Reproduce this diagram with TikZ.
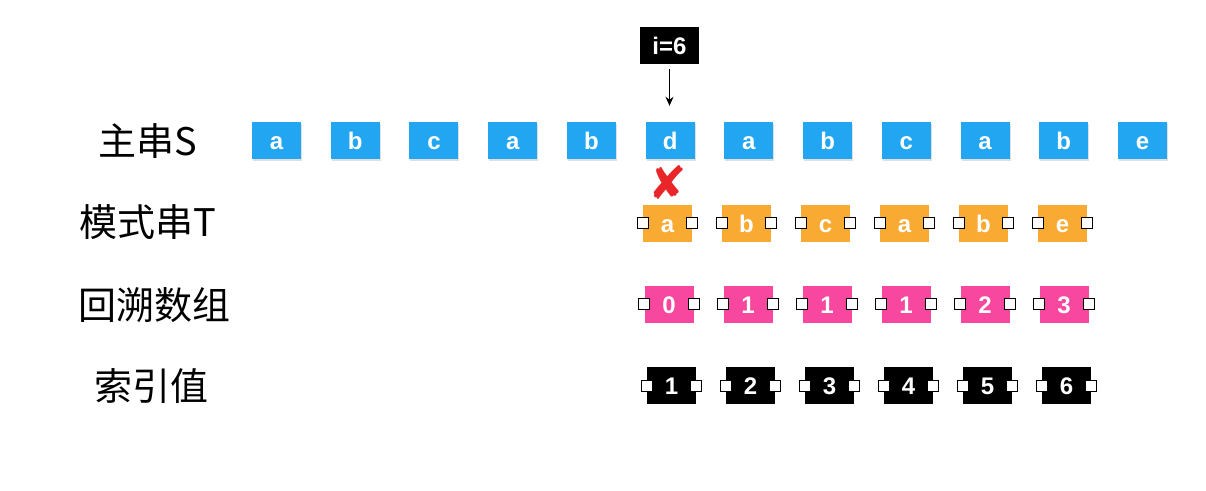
\documentclass[tikz,border=0pt]{standalone}
\usepackage{fontspec}
\setmainfont{Liberation Sans}
\newfontfamily\cjkfont{Noto Sans CJK SC}
\newfontfamily\symfont{DejaVu Sans}
\usetikzlibrary{shadows,arrows.meta}
\definecolor{sblue}{HTML}{22A6F2}
\definecolor{torange}{HTML}{F9AA33}
\definecolor{bpink}{HTML}{F7479E}
\definecolor{xred}{HTML}{E8262A}
\begin{document}
\begin{tikzpicture}[x=1pt,y=-1pt,
 cell/.style={minimum width=49pt,minimum height=37pt,inner sep=0pt,text=white,
   font=\fontsize{24}{24}\selectfont\bfseries,text height=18pt,text depth=0pt},
 sbox/.style={cell,fill=sblue,drop shadow={shadow xshift=1pt,shadow yshift=-1.5pt,opacity=0.25}},
 obox/.style={cell,fill=torange},
 pbox/.style={cell,fill=bpink},
 kbox/.style={cell,fill=black},
 handle/.style={draw=black,fill=white,line width=1pt,minimum size=11pt,inner sep=0pt},
 rowlabel/.style={font=\cjkfont\fontsize{38}{38}\selectfont,inner sep=0pt},
 pointer/.style={-{Stealth[length=9pt,width=8pt]},line width=1.3pt}
]
\useasboundingbox (0,0) rectangle (1206,490);

% row labels
\node[rowlabel] (l1) at (147.5,141) {主串S};
\node[rowlabel] (l2) at (147.5,222.5) {模式串T};
\node[rowlabel] (l3) at (154.5,305) {回溯数组};
\node[rowlabel] (l4) at (151.5,386.5) {索引值};

% main string
\foreach \c [count=\k from 0] in {a,b,c,a,b,d,a,b,c,a,b,e}
  \node[sbox] (s\k) at ({276.5+78.73*\k},140.5) {\c};

% pattern string
\foreach \c [count=\k from 0] in {a,b,c,a,b,e}{
  \node[obox] (t\k) at ({667.5+79*\k},223) {\c};
  \node[handle] (tl\k) at (t\k.west) {};
  \node[handle] (tr\k) at (t\k.east) {};
}

% backtrack array
\foreach \c [count=\k from 0] in {0,1,1,1,2,3}{
  \node[pbox] (p\k) at ({669+79*\k},304) {\c};
  \node[handle] (pl\k) at (p\k.west) {};
  \node[handle] (pr\k) at (p\k.east) {};
}

% index values
\foreach \c [count=\k from 0] in {1,2,3,4,5,6}{
  \node[kbox] (n\k) at ({671.5+79*\k},385.5) {\c};
  \node[handle] (nl\k) at (n\k.west) {};
  \node[handle] (nr\k) at (n\k.east) {};
}

% pointer
\node[kbox,minimum width=59pt] (iv) at (669.5,45.5) {i=6};
\draw[pointer] ([yshift=-5pt]iv.south) -- ([yshift=16pt]iv.south |- s5.north);

% mismatch cross
\node[text=xred,font=\symfont\fontsize{46}{46}\selectfont,inner sep=0pt] (x) at (668,182) {✘};
\end{tikzpicture}
\end{document}
